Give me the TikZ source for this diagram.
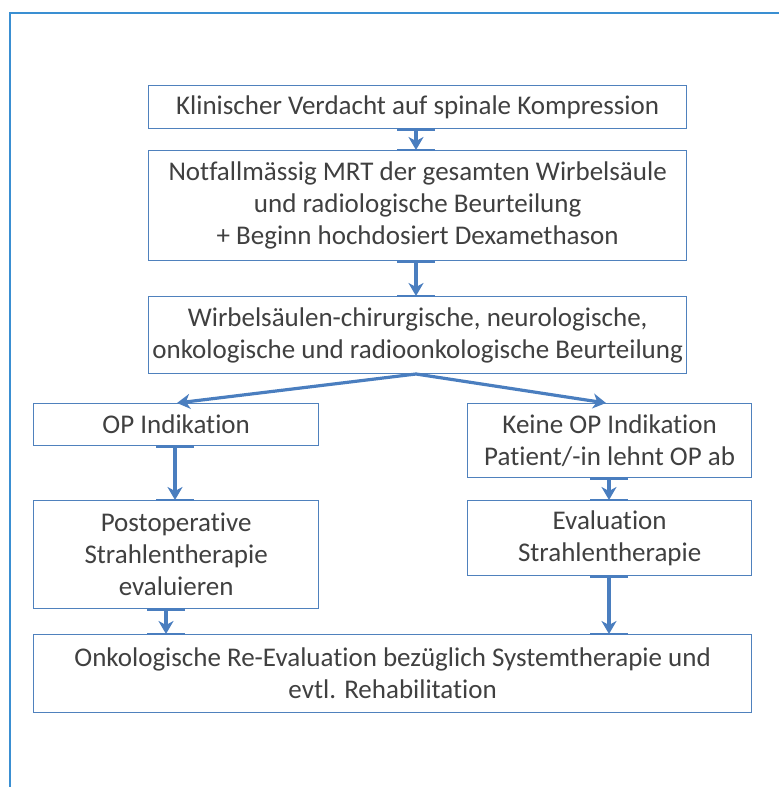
\documentclass[tikz,border=0pt]{standalone}
\usepackage{fontspec}
\setmainfont{Carlito}[Ligatures={NoCommon}]
\usetikzlibrary{arrows.meta}
\definecolor{boxc}{HTML}{4F81BD}
\definecolor{arrc}{HTML}{4A7EBF}
\definecolor{framec}{HTML}{3A8FD2}
\definecolor{txt}{HTML}{404040}
\tikzset{
  box/.style={draw=boxc, line width=1.3pt, fill=white, anchor=north west, inner sep=0pt,
    align=center, text=txt, font=\fontsize{27}{32}\selectfont},
  conn/.style={draw=arrc, line width=3.2pt, -{Stealth[length=13pt,width=15pt,inset=4pt]}},
  tab/.style={draw=arrc, line width=2.6pt},
}
\begin{document}
\begin{tikzpicture}[x=1pt,y=-1pt]
\useasboundingbox (0,0) rectangle (779,787);
\draw[framec, line width=2pt] (9.5,787) -- (9.5,12.5) -- (779,12.5);

\node[box, minimum width=538pt, minimum height=43pt] (b1) at (148,85) {Klinischer Verdacht auf spinale Kompression};
\node[box, minimum width=538pt, minimum height=110pt] (b2) at (148,150) {Notfallmässig MRT der gesamten Wirbelsäule\\und radiologische Beurteilung\\+ Beginn hochdosiert Dexamethason};
\node[box, minimum width=538pt, minimum height=77pt] (b3) at (148,296) {Wirbelsäulen-chirurgische, neurologische,\\onkologische und radioonkologische Beurteilung};
\node[box, minimum width=285pt, minimum height=42pt] (b4) at (33,403) {OP Indikation};
\node[box, minimum width=284pt, minimum height=74pt] (b5) at (467,403) {Keine OP Indikation\\Patient/-in lehnt OP ab};
\node[box, minimum width=285pt, minimum height=108pt] (b6) at (33,500) {Postoperative\\Strahlentherapie\\evaluieren};
\node[box, minimum width=284pt, minimum height=75pt] (b7) at (467,500) {Evaluation\\Strahlentherapie};
\node[box, minimum width=718pt, minimum height=78pt] (b8) at (33,634) {Onkologische Re-Evaluation bezüglich Systemtherapie und\\evtl. Rehabilitation};

% connection tabs
\foreach \n/\x in {b1.south/416, b2.north/416, b2.south/416, b3.north/416}{
  \draw[tab] ([xshift=-19pt]\x,0 |- \n) -- ([xshift=19pt]\x,0 |- \n);
}
\foreach \n/\x in {b4.south/175, b6.north/175, b6.south/166, b8.north/166, b5.south/609, b7.north/609, b7.south/609, b8.north/609}{
  \draw[tab] ([xshift=-19pt]\x,0 |- \n) -- ([xshift=19pt]\x,0 |- \n);
}

\coordinate (s3) at (416,374);
\draw[conn] (416,0 |- b1.south) -- (416,0 |- b2.north);
\draw[conn] (416,0 |- b2.south) -- (416,0 |- b3.north);
\draw[conn] (s3) -- (177,0 |- b4.north);
\draw[conn] (s3) -- (606,0 |- b5.north);
\draw[conn] (175,0 |- b4.south) -- (175,0 |- b6.north);
\draw[conn] (609,0 |- b5.south) -- (609,0 |- b7.north);
\draw[conn] (166,0 |- b6.south) -- (166,0 |- b8.north);
\draw[conn] (609,0 |- b7.south) -- (609,0 |- b8.north);
\end{tikzpicture}
\end{document}
